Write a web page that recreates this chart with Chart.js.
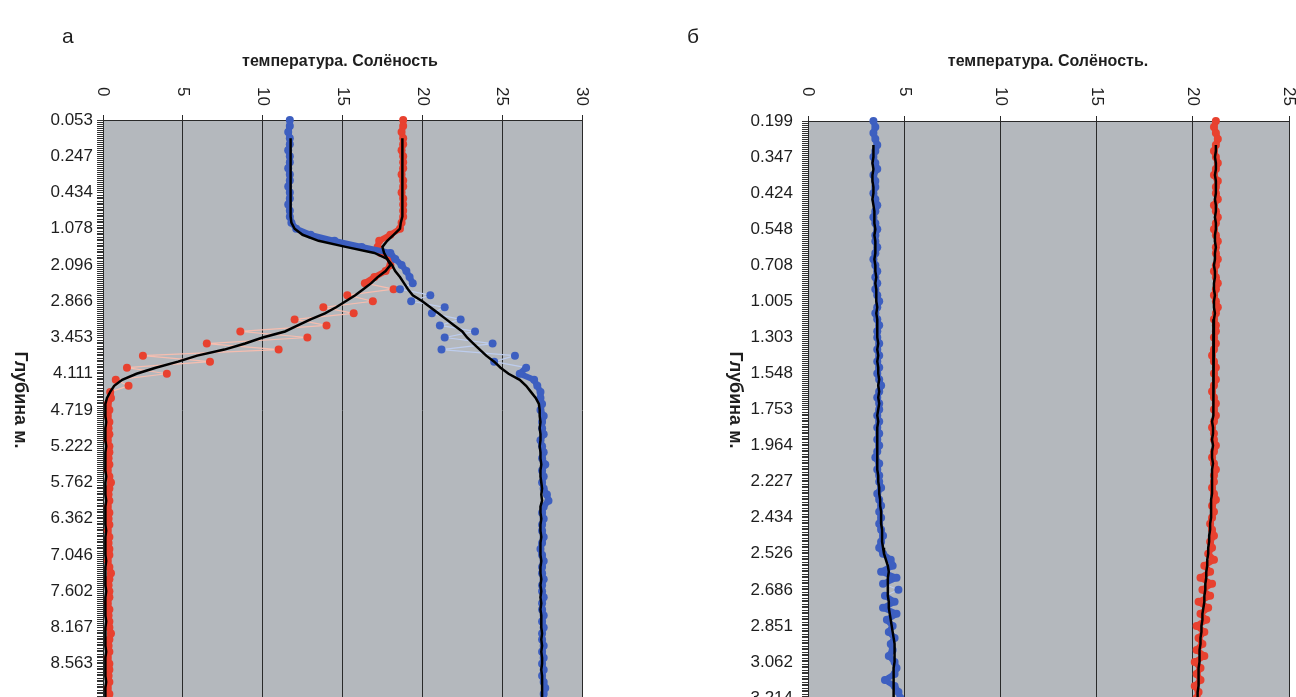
<!DOCTYPE html>
<html>
<head>
<meta charset="utf-8">
<script src="https://cdn.jsdelivr.net/npm/chart.js@4"></script>
<style>
  html, body { margin: 0; padding: 0; background: #fff; width: 1296px; height: 697px; overflow: hidden; }
  canvas { position: absolute; top: 0; }
  #chart-a { left: 0; }
  #chart-b { left: 656px; }
</style>
</head>
<body>
<canvas id="chart-a" width="640" height="720"></canvas>
<canvas id="chart-b" width="640" height="720"></canvas>
<script>
// depth tick labels (one every 6 samples)
const depthA = ['0.053', '0.247', '0.434', '1.078', '2.096', '2.866', '3.453', '4.111',
    '4.719', '5.222', '5.762', '6.362', '7.046', '7.602', '8.167', '8.563'];
const depthB = ['0.199', '0.347', '0.424', '0.548', '0.708', '1.005', '1.303', '1.548', '1.753',
    '1.964', '2.227', '2.434', '2.526', '2.686', '2.851', '3.062', '3.214'];
const STEP = 6;
const N = 97;

// panel а: measured points (blue / red) and smoothed profiles (black)
const blueA = [
    11.7, 11.7, 11.6, 11.7, 11.7, 11.6, 11.7, 11.7, 11.6, 11.7, 11.7, 11.6,
    11.7, 11.7, 11.6, 11.7, 11.7, 11.8, 12.1, 13.0, 14.5, 16.2, 18.0, 18.3,
    18.7, 19.0, 19.2, 19.4, 18.6, 20.5, 19.3, 21.4, 20.6, 22.4, 21.1, 23.3,
    21.4, 24.4, 21.2, 25.8, 24.5, 26.5, 26.1, 27.0, 27.2, 27.4, 27.4, 27.5,
    27.4, 27.6, 27.5, 27.5, 27.6, 27.4, 27.5, 27.6, 27.5, 27.7, 27.5, 27.6,
    27.5, 27.6, 27.8, 27.9, 27.6, 27.5, 27.6, 27.5, 27.5, 27.6, 27.5, 27.4,
    27.5, 27.6, 27.5, 27.5, 27.6, 27.5, 27.5, 27.6, 27.5, 27.5, 27.6, 27.5,
    27.6, 27.5, 27.5, 27.6, 27.5, 27.6, 27.5, 27.6, 27.5, 27.6, 27.7, 27.6, 27.6
];
const blueSmoothA = [
    null, null, null, 11.75, 11.75, 11.75, 11.75, 11.75, 11.75, 11.75, 11.75, 11.75,
    11.75, 11.75, 11.75, 11.75, 11.75, 11.8, 12.0, 12.5, 13.5, 15.2, 17.0, 17.8,
    18.1, 18.3, 18.6, 18.85, 19.1, 19.4, 20.0, 20.5, 21.0, 21.5, 22.0, 22.5,
    22.8, 23.2, 23.6, 24.0, 24.5, 24.9, 25.4, 26.1, 26.5, 26.8, 27.1, 27.3,
    27.35, 27.35, 27.4, 27.35, 27.4, 27.4, 27.35, 27.4, 27.4, 27.45, 27.4, 27.4,
    27.45, 27.5, 27.45, 27.5, 27.4, 27.4, 27.45, 27.4, 27.4, 27.45, 27.4, 27.4,
    27.4, 27.45, 27.4, 27.4, 27.45, 27.4, 27.45, 27.4, 27.45, 27.4, 27.45, 27.45,
    27.45, 27.5, 27.45, 27.5, 27.45, 27.5, 27.5, 27.45, 27.5, 27.5, 27.5, 27.5, 27.5
];
const redA = [
    18.8, 18.8, 18.7, 18.8, 18.8, 18.7, 18.8, 18.8, 18.8, 18.7, 18.8, 18.8,
    18.7, 18.8, 18.8, 18.8, 18.8, 18.7, 18.6, 18.0, 17.3, 17.2, 17.4, 18.0,
    18.0, 17.7, 17.0, 16.4, 18.2, 15.3, 16.9, 13.8, 15.7, 12.0, 14.0, 8.6,
    12.8, 6.5, 11.0, 2.5, 6.7, 1.5, 4.0, 0.8, 1.6, 0.45, 0.5, 0.3,
    0.4, 0.3, 0.4, 0.35, 0.4, 0.3, 0.4, 0.4, 0.35, 0.4, 0.3, 0.4,
    0.5, 0.4, 0.35, 0.4, 0.3, 0.4, 0.35, 0.4, 0.3, 0.4, 0.35, 0.4,
    0.4, 0.3, 0.4, 0.5, 0.4, 0.35, 0.4, 0.4, 0.3, 0.4, 0.35, 0.4,
    0.4, 0.5, 0.4, 0.35, 0.4, 0.3, 0.4, 0.4, 0.35, 0.4, 0.3, 0.4, 0.4
];
const redSmoothA = [
    null, null, null, 18.75, 18.75, 18.75, 18.75, 18.75, 18.75, 18.75, 18.75, 18.75,
    18.75, 18.75, 18.75, 18.75, 18.75, 18.65, 18.6, 18.2, 17.8, 17.5, 17.6, 17.8,
    18.0, 17.7, 17.2, 16.8, 16.3, 15.8, 15.2, 14.6, 13.9, 13.0, 12.2, 11.4,
    10.0, 8.9, 7.6, 5.9, 4.7, 3.3, 2.1, 1.2, 0.7, 0.45, 0.25, 0.15,
    0.15, 0.15, 0.2, 0.15, 0.15, 0.15, 0.2, 0.15, 0.15, 0.15, 0.15, 0.2,
    0.15, 0.15, 0.15, 0.2, 0.15, 0.15, 0.15, 0.15, 0.2, 0.15, 0.15, 0.15,
    0.15, 0.2, 0.15, 0.15, 0.15, 0.15, 0.2, 0.15, 0.15, 0.15, 0.15, 0.2,
    0.15, 0.15, 0.15, 0.15, 0.2, 0.15, 0.15, 0.15, 0.15, 0.2, 0.15, 0.15, 0.15
];

// panel б
const blueB = [
    3.4, 3.5, 3.4, 3.5, 3.6, 3.5, 3.4, 3.5, 3.6, 3.4, 3.5, 3.5,
    3.4, 3.5, 3.6, 3.5, 3.4, 3.5, 3.6, 3.5, 3.5, 3.6, 3.5, 3.4,
    3.5, 3.6, 3.5, 3.6, 3.5, 3.6, 3.7, 3.6, 3.5, 3.6, 3.7, 3.6,
    3.6, 3.7, 3.6, 3.7, 3.6, 3.7, 3.6, 3.7, 3.8, 3.7, 3.6, 3.7,
    3.7, 3.6, 3.7, 3.6, 3.7, 3.6, 3.7, 3.6, 3.5, 3.7, 3.6, 3.7,
    3.7, 3.8, 3.6, 3.7, 3.8, 3.7, 3.8, 3.7, 3.8, 3.9, 3.8, 3.7,
    3.9, 4.3, 4.4, 3.8, 4.6, 3.9, 4.7, 4.0, 4.5, 3.9, 4.6, 4.1,
    4.4, 4.2, 4.5, 4.3, 4.4, 4.2, 4.5, 4.6, 4.5, 4.0, 4.5, 4.7, 4.8
];
const blueSmoothB = [
    null, null, null, null, 3.4, 3.4, 3.4, 3.35, 3.4, 3.35, 3.35, 3.4,
    3.4, 3.35, 3.4, 3.45, 3.45, 3.45, 3.5, 3.45, 3.5, 3.5, 3.5, 3.45,
    3.5, 3.5, 3.55, 3.5, 3.55, 3.55, 3.55, 3.6, 3.55, 3.6, 3.6, 3.6,
    3.6, 3.65, 3.6, 3.65, 3.6, 3.65, 3.65, 3.7, 3.65, 3.7, 3.65, 3.7,
    3.65, 3.6, 3.65, 3.6, 3.6, 3.6, 3.6, 3.6, 3.6, 3.6, 3.6, 3.65,
    3.65, 3.7, 3.7, 3.75, 3.75, 3.8, 3.8, 3.8, 3.85, 3.85, 3.85, 3.9,
    3.95, 4.05, 4.15, 4.2, 4.15, 4.15, 4.15, 4.15, 4.2, 4.2, 4.25, 4.3,
    4.35, 4.4, 4.45, 4.5, 4.5, 4.5, 4.5, 4.45, 4.45, 4.45, 4.45, 4.45, 4.45
];
const redB = [
    21.2, 21.1, 21.2, 21.3, 21.2, 21.1, 21.2, 21.3, 21.2, 21.1, 21.3, 21.2,
    21.2, 21.3, 21.1, 21.2, 21.3, 21.2, 21.1, 21.2, 21.3, 21.2, 21.2, 21.3,
    21.2, 21.1, 21.2, 21.3, 21.2, 21.1, 21.2, 21.3, 21.2, 21.1, 21.2, 21.2,
    21.1, 21.2, 21.1, 21.0, 21.1, 21.2, 21.1, 21.2, 21.1, 21.0, 21.1, 21.2,
    21.1, 21.2, 21.1, 21.0, 21.1, 21.1, 21.2, 21.1, 21.0, 21.1, 21.2, 21.1,
    21.1, 21.0, 21.1, 21.2, 21.0, 21.1, 21.0, 20.9, 21.0, 21.1, 20.9, 21.0,
    20.8, 21.1, 20.6, 20.9, 20.4, 21.0, 20.5, 20.9, 20.3, 20.8, 20.4, 20.7,
    20.2, 20.6, 20.3, 20.5, 20.2, 20.6, 20.1, 20.4, 20.2, 20.4, 20.1, 20.3, 20.2
];
const redSmoothB = [
    null, null, null, null, 21.2, 21.2, 21.15, 21.2, 21.2, 21.15, 21.2, 21.2,
    21.2, 21.15, 21.2, 21.2, 21.15, 21.2, 21.2, 21.15, 21.15, 21.2, 21.15, 21.15,
    21.1, 21.15, 21.15, 21.1, 21.1, 21.15, 21.1, 21.1, 21.15, 21.1, 21.1, 21.05,
    21.1, 21.1, 21.05, 21.1, 21.05, 21.05, 21.1, 21.05, 21.05, 21.1, 21.05, 21.05,
    21.05, 21.05, 21.0, 21.05, 21.05, 21.0, 21.05, 21.0, 21.0, 21.05, 21.0, 21.0,
    21.0, 21.0, 21.0, 20.95, 20.95, 20.95, 20.95, 20.9, 20.9, 20.85, 20.85, 20.8,
    20.8, 20.75, 20.75, 20.7, 20.7, 20.65, 20.65, 20.6, 20.6, 20.55, 20.5, 20.5,
    20.45, 20.45, 20.4, 20.4, 20.35, 20.35, 20.35, 20.3, 20.3, 20.3, 20.3, 20.25, 20.25
];

// one category per sample, text only on every STEP-th one
function buildLabels(depths) {
    const out = [];
    for (let i = 0; i < N; i++) {
        out.push(i % STEP === 0 && depths[i / STEP] !== undefined ? depths[i / STEP] : '');
    }
    return out;
}

const FONT = '"Liberation Sans", Arial, sans-serif';

const decor = {
    id: 'decor',
    beforeDraw(chart) {
        const { ctx, chartArea: a } = chart;
        ctx.save();
        ctx.fillStyle = '#b4b8bd';
        ctx.fillRect(a.left, a.top, a.right - a.left, a.bottom - a.top);
        ctx.restore();
    },
    afterDraw(chart, args, o) {
        const ctx = chart.ctx;
        const xs = chart.scales.x, ys = chart.scales.y;
        ctx.save();

        // extra minor ticks between the sample ticks
        ctx.strokeStyle = '#333';
        ctx.lineWidth = 1;
        ctx.beginPath();
        for (let i = 0; i < ys.ticks.length - 1; i++) {
            const p0 = ys.getPixelForValue(i), p1 = ys.getPixelForValue(i + 1);
            for (const f of [1 / 3, 2 / 3]) {
                const y = Math.round(p0 + (p1 - p0) * f) + 0.5;
                ctx.moveTo(ys.right - 6, y);
                ctx.lineTo(ys.right, y);
            }
        }
        ctx.stroke();

        ctx.fillStyle = '#1e1e1e';

        // x tick labels, turned clockwise
        ctx.font = '17px ' + FONT;
        ctx.textAlign = 'left';
        ctx.textBaseline = 'middle';
        xs.ticks.forEach(t => {
            ctx.save();
            ctx.translate(xs.getPixelForValue(t.value), o.tickTop);
            ctx.rotate(Math.PI / 2);
            ctx.fillText(String(t.value), 0, 0);
            ctx.restore();
        });

        // chart title
        ctx.font = 'bold 16px ' + FONT;
        ctx.textAlign = 'center';
        ctx.fillText(o.title, o.titleX, 62);

        // depth axis title
        ctx.save();
        ctx.font = 'bold 18px ' + FONT;
        ctx.translate(o.yTitleX, 400);
        ctx.rotate(Math.PI / 2);
        ctx.fillText('Глубина м.', 0, 0);
        ctx.restore();

        // panel letter
        ctx.font = '21px "Liberation Sans Narrow", ' + FONT;
        ctx.textAlign = 'left';
        ctx.fillText(o.letter, o.letterX, 37);
        ctx.restore();
    }
};

// points joined by a thick band along the profile, thin pale line where readings zigzag
function dotSeries(values, solid, pale) {
    const zig = c => {
        const i = c.p0DataIndex;
        const d = values[i + 1] - values[i];
        const prev = i > 0 ? values[i] - values[i - 1] : 0;
        const next = i + 2 < values.length ? values[i + 2] - values[i + 1] : 0;
        if (Math.abs(d) < 0.7) return false;
        return (prev * d < 0 && Math.abs(prev) > 0.7) || (next * d < 0 && Math.abs(next) > 0.7);
    };
    return {
        data: values,
        order: 2,
        borderColor: solid,
        borderWidth: 6,
        borderCapStyle: 'round',
        borderJoinStyle: 'round',
        segment: {
            borderColor: c => zig(c) ? pale : solid,
            borderWidth: c => zig(c) ? 1.2 : 6
        },
        pointRadius: 4,
        pointBackgroundColor: solid,
        pointBorderWidth: 0
    };
}

function smoothSeries(values) {
    return { data: values, order: 1, borderColor: '#000', borderWidth: 2.5, pointRadius: 0 };
}

function makeChart(id, depths, blue, blueSmooth, red, redSmooth, xMax, o) {
    const ctx = document.getElementById(id).getContext('2d');
    return new Chart(ctx, {
        type: 'line',
        data: {
            labels: buildLabels(depths),
            datasets: [
                dotSeries(blue, '#3d5fc0', 'rgba(190, 205, 240, 0.95)'),
                dotSeries(red, '#e8412f', 'rgba(250, 190, 175, 0.95)'),
                smoothSeries(blueSmooth),
                smoothSeries(redSmooth)
            ]
        },
        options: {
            indexAxis: 'y',
            responsive: false,
            animation: false,
            layout: { padding: { top: 0, left: 0, right: o.padRight, bottom: o.padBottom } },
            scales: {
                x: {
                    type: 'linear',
                    position: 'top',
                    min: 0,
                    max: xMax,
                    ticks: { stepSize: 5, display: false },
                    grid: { color: '#2a2a2a', lineWidth: 1, tickLength: 5 },
                    border: { display: true, color: '#2a2a2a' },
                    afterFit: s => { s.height = o.top; }
                },
                y: {
                    type: 'category',
                    ticks: { autoSkip: false, font: { family: FONT, size: 17 }, color: '#1e1e1e', padding: o.labelPad },
                    grid: { drawOnChartArea: false, tickLength: 6, color: '#333' },
                    border: { display: true, color: '#2a2a2a' },
                    afterFit: s => { s.width = o.left; }
                }
            },
            plugins: {
                legend: { display: false },
                tooltip: { enabled: false },
                decor: o
            }
        },
        plugins: [decor]
    });
}

makeChart('chart-a', depthA, blueA, blueSmoothA, redA, redSmoothA, 30, {
    left: 103, top: 120, padRight: 58, padBottom: 20, tickTop: 87, labelPad: 4,
    title: 'температура. Солёность', titleX: 340, yTitleX: 20, letter: 'а', letterX: 62
});
makeChart('chart-b', depthB, blueB, blueSmoothB, redB, redSmoothB, 25, {
    left: 152, top: 121, padRight: 7, padBottom: 22, tickTop: 87, labelPad: 9,
    title: 'температура. Солёность.', titleX: 392, yTitleX: 79, letter: 'б', letterX: 31
});
</script>
</body>
</html>
